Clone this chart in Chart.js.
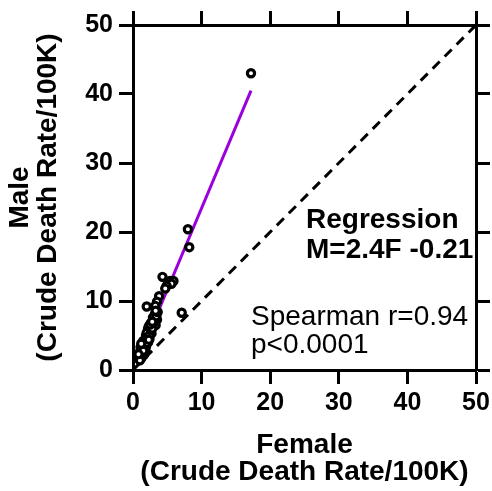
<!DOCTYPE html>
<html>
<head>
<meta charset="utf-8">
<script src="https://cdn.jsdelivr.net/npm/chart.js@4.4.1/dist/chart.umd.min.js"></script>
<style>
  html, body { margin: 0; padding: 0; background: #ffffff; }
  #wrap { width: 492px; height: 491px; }
</style>
</head>
<body>
<div id="wrap"><canvas id="c" width="492" height="491"></canvas></div>
<script>
// ---- data ----
const femaleRates = [17.2, 8.0, 8.2, 7.1, 4.3, 5.4, 5.9, 5.6, 4.9, 4.7, 3.8, 3.5, 2.0, 3.25,
  3.2, 3.0, 2.9, 2.7, 2.5, 2.3, 2.1, 2.0, 1.8, 1.6, 1.4, 1.2, 1.1, 0.9, 0.8, 1.3, 1.6, 2.4,
  2.7, 3.3, 2.2, 1.9, 1.5, 1.1, 3.5, 2.6,
  0.9, 1.0, 1.2, 1.0, 1.3, 1.5, 1.7, 1.4, 1.9, 2.2, 2.0, 2.4, 2.6, 2.3, 2.8, 3.1, 2.9, 3.4,
  3.6, 3.3, 1.2, 1.6, 1.8, 1.9, 2.2,
  1.0, 1.4, 1.7, 2.0, 2.3, 1.5, 0.8, 1.2, 2.5, 2.8];
const maleRates = [43.0, 20.4, 17.8, 8.3, 13.5, 12.9, 12.9, 12.5, 12.2, 11.8, 10.7, 9.9, 9.2, 9.3,
  8.1, 7.4, 6.8, 6.2, 5.7, 5.2, 4.8, 4.3, 3.9, 3.5, 3.1, 2.8, 2.4, 2.1, 1.8, 2.0, 2.5, 4.5,
  5.3, 6.5, 6.0, 5.0, 4.2, 3.3, 7.3, 6.8,
  1.6, 1.9, 2.2, 2.6, 3.0, 3.3, 3.7, 3.6, 4.1, 4.6, 5.4, 5.0, 5.8, 6.3, 6.0, 6.9, 7.6, 7.8,
  8.4, 8.6, 1.7, 2.2, 2.9, 3.4, 4.0,
  1.4, 2.4, 3.1, 3.9, 4.4, 2.8, 2.3, 3.8, 6.6, 7.0];
const regressionX = [0.8, 17.2];
const regressionY = [1.7, 40.5];
const identityX = [0, 50];
const identityY = [0, 50];
const axisMin = 0, axisMax = 50, axisStep = 10;
const xTitle = ['Female', '(Crude Death Rate/100K)'];
const yTitle = ['Male', '(Crude Death Rate/100K)'];
const regressionText = ['Regression', 'M=2.4F -0.21'];
const spearmanText = ['Spearman r=0.94', 'p<0.0001'];

const FONT = "'Liberation Sans', Arial, Helvetica, sans-serif";

const pts = femaleRates.map((f, i) => ({ x: f, y: maleRates[i] }));
const regPts = regressionX.map((x, i) => ({ x: x, y: regressionY[i] }));
const idPts = identityX.map((x, i) => ({ x: x, y: identityY[i] }));

const gridOpts = {
  drawOnChartArea: false,
  drawTicks: true,
  tickLength: 14,
  tickWidth: 3,
  tickColor: '#000'
};
const borderOpts = { display: true, width: 3, color: '#000' };
const tickFont = { family: FONT, size: 25, weight: 'bold' };
const titleFont = { family: FONT, size: 28, weight: 'bold', lineHeight: 0.98 };

const textPlugin = {
  id: 'annotText',
  afterDatasetsDraw(chart) {
    const ctx = chart.ctx;
    ctx.save();
    ctx.fillStyle = '#000';
    ctx.textAlign = 'left';
    ctx.textBaseline = 'alphabetic';
    ctx.font = "bold 28px " + FONT;
    ctx.fillText(regressionText[0], 306, 228);
    ctx.fillText(regressionText[1], 306, 258);
    ctx.font = "28px " + FONT;
    ctx.fillText(spearmanText[0], 251, 325);
    ctx.fillText(spearmanText[1], 251, 353);
    ctx.restore();
  }
};

new Chart(document.getElementById('c'), {
  type: 'scatter',
  data: {
    datasets: [
      {
        label: 'States',
        data: pts,
        showLine: false,
        pointRadius: 3.6,
        pointBorderWidth: 3.2,
        pointBorderColor: '#000',
        pointBackgroundColor: '#fff',
        order: 0
      },
      {
        type: 'line',
        label: 'Regression',
        data: regPts,
        borderColor: '#9900dd',
        borderWidth: 3,
        pointRadius: 0,
        fill: false,
        order: 1
      },
      {
        type: 'line',
        label: 'Identity',
        data: idPts,
        borderColor: '#000',
        borderWidth: 3,
        borderDash: [10, 7],
        pointRadius: 0,
        fill: false,
        order: 2
      }
    ]
  },
  options: {
    responsive: false,
    animation: false,
    devicePixelRatio: 1,
    layout: { padding: 0 },
    plugins: { legend: { display: false }, tooltip: { enabled: false }, title: { display: false } },
    scales: {
      x: {
        type: 'linear', position: 'bottom', min: axisMin, max: axisMax,
        ticks: { stepSize: axisStep, color: '#000', font: tickFont, padding: 4, maxRotation: 0 },
        grid: gridOpts, border: borderOpts,
        title: { display: true, text: xTitle, color: '#000', font: titleFont, padding: { top: 0, bottom: 5 } },
        afterFit(s) { s.height = 121; s.paddingLeft = 0; s.paddingRight = 0; }
      },
      y: {
        type: 'linear', position: 'left', min: axisMin, max: axisMax,
        ticks: { stepSize: axisStep, color: '#000', font: tickFont, padding: 6 },
        grid: gridOpts, border: borderOpts,
        title: { display: true, text: yTitle, color: '#000', font: titleFont, padding: { top: 7, bottom: 0 } },
        afterFit(s) { s.width = 133; s.paddingTop = 0; s.paddingBottom = 0; }
      },
      x2: {
        type: 'linear', position: 'top', min: axisMin, max: axisMax,
        ticks: { stepSize: axisStep, display: false },
        grid: gridOpts, border: borderOpts,
        afterFit(s) { s.height = 25; s.paddingLeft = 0; s.paddingRight = 0; }
      },
      y2: {
        type: 'linear', position: 'right', min: axisMin, max: axisMax,
        ticks: { stepSize: axisStep, display: false },
        grid: gridOpts, border: borderOpts,
        afterFit(s) { s.width = 16; s.paddingTop = 0; s.paddingBottom = 0; }
      }
    }
  },
  plugins: [textPlugin]
});
</script>
</body>
</html>
